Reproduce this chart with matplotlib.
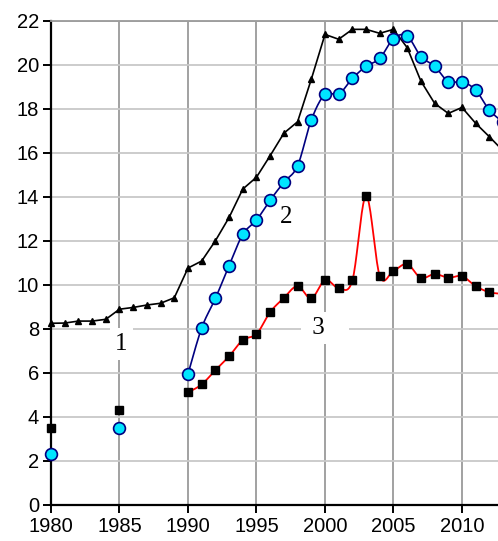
import matplotlib
matplotlib.use("Agg")
import matplotlib.pyplot as plt
import numpy as np

# series 1: black line, small triangles, every year
years1 = np.arange(1980, 2014)
vals1 = [8.26, 8.27, 8.36, 8.36, 8.44, 8.90, 8.98, 9.09, 9.17, 9.42,
         10.77, 11.09, 12.01, 13.07, 14.36, 14.90, 15.88, 16.90, 17.42, 19.35,
         21.39, 21.17, 21.62, 21.62, 21.44, 21.62, 20.79, 19.27, 18.26, 17.80,
         18.07, 17.35, 16.74, 16.10]

# series 2: cyan circles (1980, 1985, then yearly from 1990)
years2 = [1980, 1985] + list(range(1990, 2014))
vals2 = [2.33, 3.50,
         5.95, 8.05, 9.39, 10.88, 12.30, 12.95, 13.86, 14.67, 15.42, 17.50,
         18.67, 18.67, 19.39, 19.94, 20.30, 21.20, 21.32, 20.38, 19.95, 19.24,
         19.24, 18.86, 17.95, 17.40]

# series 3: black squares on red line
years3 = [1980, 1985] + list(range(1990, 2014))
vals3 = [3.48, 4.30,
         5.12, 5.48, 6.13, 6.76, 7.50, 7.77, 8.77, 9.41, 9.95, 9.39,
         10.23, 9.86, 10.21, 14.05, 10.41, 10.64, 10.95, 10.32, 10.50, 10.33,
         10.40, 9.95, 9.67, 9.60]

xticks = [1980, 1985, 1990, 1995, 2000, 2005, 2010]
yticks = list(range(0, 23, 2))


def smooth(x, y, n=20):
    # Excel-like smoothed line (uniform Catmull-Rom as cubic Bezier)
    p = np.column_stack([x, y]).astype(float)
    p = np.vstack([p[0], p, p[-1]])
    t = np.linspace(0, 1, n)[:, None]
    out = []
    for i in range(1, len(p) - 2):
        p0, p1, p2, p3 = p[i - 1], p[i], p[i + 1], p[i + 2]
        c1 = p1 + (p2 - p0) / 6
        c2 = p2 - (p3 - p1) / 6
        seg = ((1 - t) ** 3) * p1 + 3 * ((1 - t) ** 2) * t * c1 \
            + 3 * (1 - t) * t ** 2 * c2 + t ** 3 * p2
        out.append(seg)
    out = np.vstack(out)
    return out[:, 0], out[:, 1]


fig = plt.figure(figsize=(4.98, 5.41), dpi=100)
ax = fig.add_axes([51 / 498, 36 / 541, 447 / 498, 484 / 541])

ax.set_xlim(1980, 2012.63)
ax.set_ylim(0, 22)

# grid
for xv in xticks:
    ax.axvline(xv, color='#9a9a9a', lw=1.3, zorder=0)
for yv in yticks:
    ax.axhline(yv, color='#c8c8c8', lw=1.3, zorder=0)

# series 1
ax.plot(years1, vals1, color='black', lw=1.2, zorder=3)
ax.plot(years1, vals1, ls='none', marker='^', ms=4, color='black',
        zorder=4, clip_on=False)

# series 2
x2 = np.array(years2)
y2 = np.array(vals2)
sx, sy = smooth(x2[2:], y2[2:])
ax.plot(sx, sy, color='#000080', lw=1.2, zorder=3)
ax.plot(x2, y2, ls='none', marker='o', ms=8.5, mfc='#00e5ff', mec='#000080',
        mew=1.2, zorder=5, clip_on=False)

# series 3
x3 = np.array(years3)
y3 = np.array(vals3)
sx, sy = smooth(x3[2:], y3[2:])
ax.plot(sx, sy, color='red', lw=1.3, zorder=3)
ax.plot(x3, y3, ls='none', marker='s', ms=5.5, color='black',
        zorder=4, clip_on=False)

# curve numbers
box = dict(boxstyle='square,pad=0.2', fc='white', ec='none')
ax.text(1985.15, 7.3, '1', family='Liberation Serif', fontsize=18,
        ha='center', va='center', bbox=box, zorder=2)
ax.text(1997.2, 13.1, '2', family='Liberation Serif', fontsize=18,
        ha='center', va='center', zorder=2)
ax.text(2000.0, 8.05, ' 3   ', family='Liberation Serif', fontsize=18,
        ha='center', va='center', bbox=box, zorder=2)

ax.set_xticks(xticks)
ax.set_yticks(yticks)
ax.tick_params(direction='out', length=5.5, width=1.4, labelsize=14.5,
               pad=3)
for lab in ax.get_xticklabels() + ax.get_yticklabels():
    lab.set_family('Liberation Sans')

ax.spines['left'].set_linewidth(1.6)
ax.spines['bottom'].set_linewidth(1.6)
ax.spines['right'].set_visible(False)
ax.spines['top'].set_color('#9a9a9a')
ax.spines['top'].set_linewidth(1.3)

plt.savefig('out.png', dpi=100)
